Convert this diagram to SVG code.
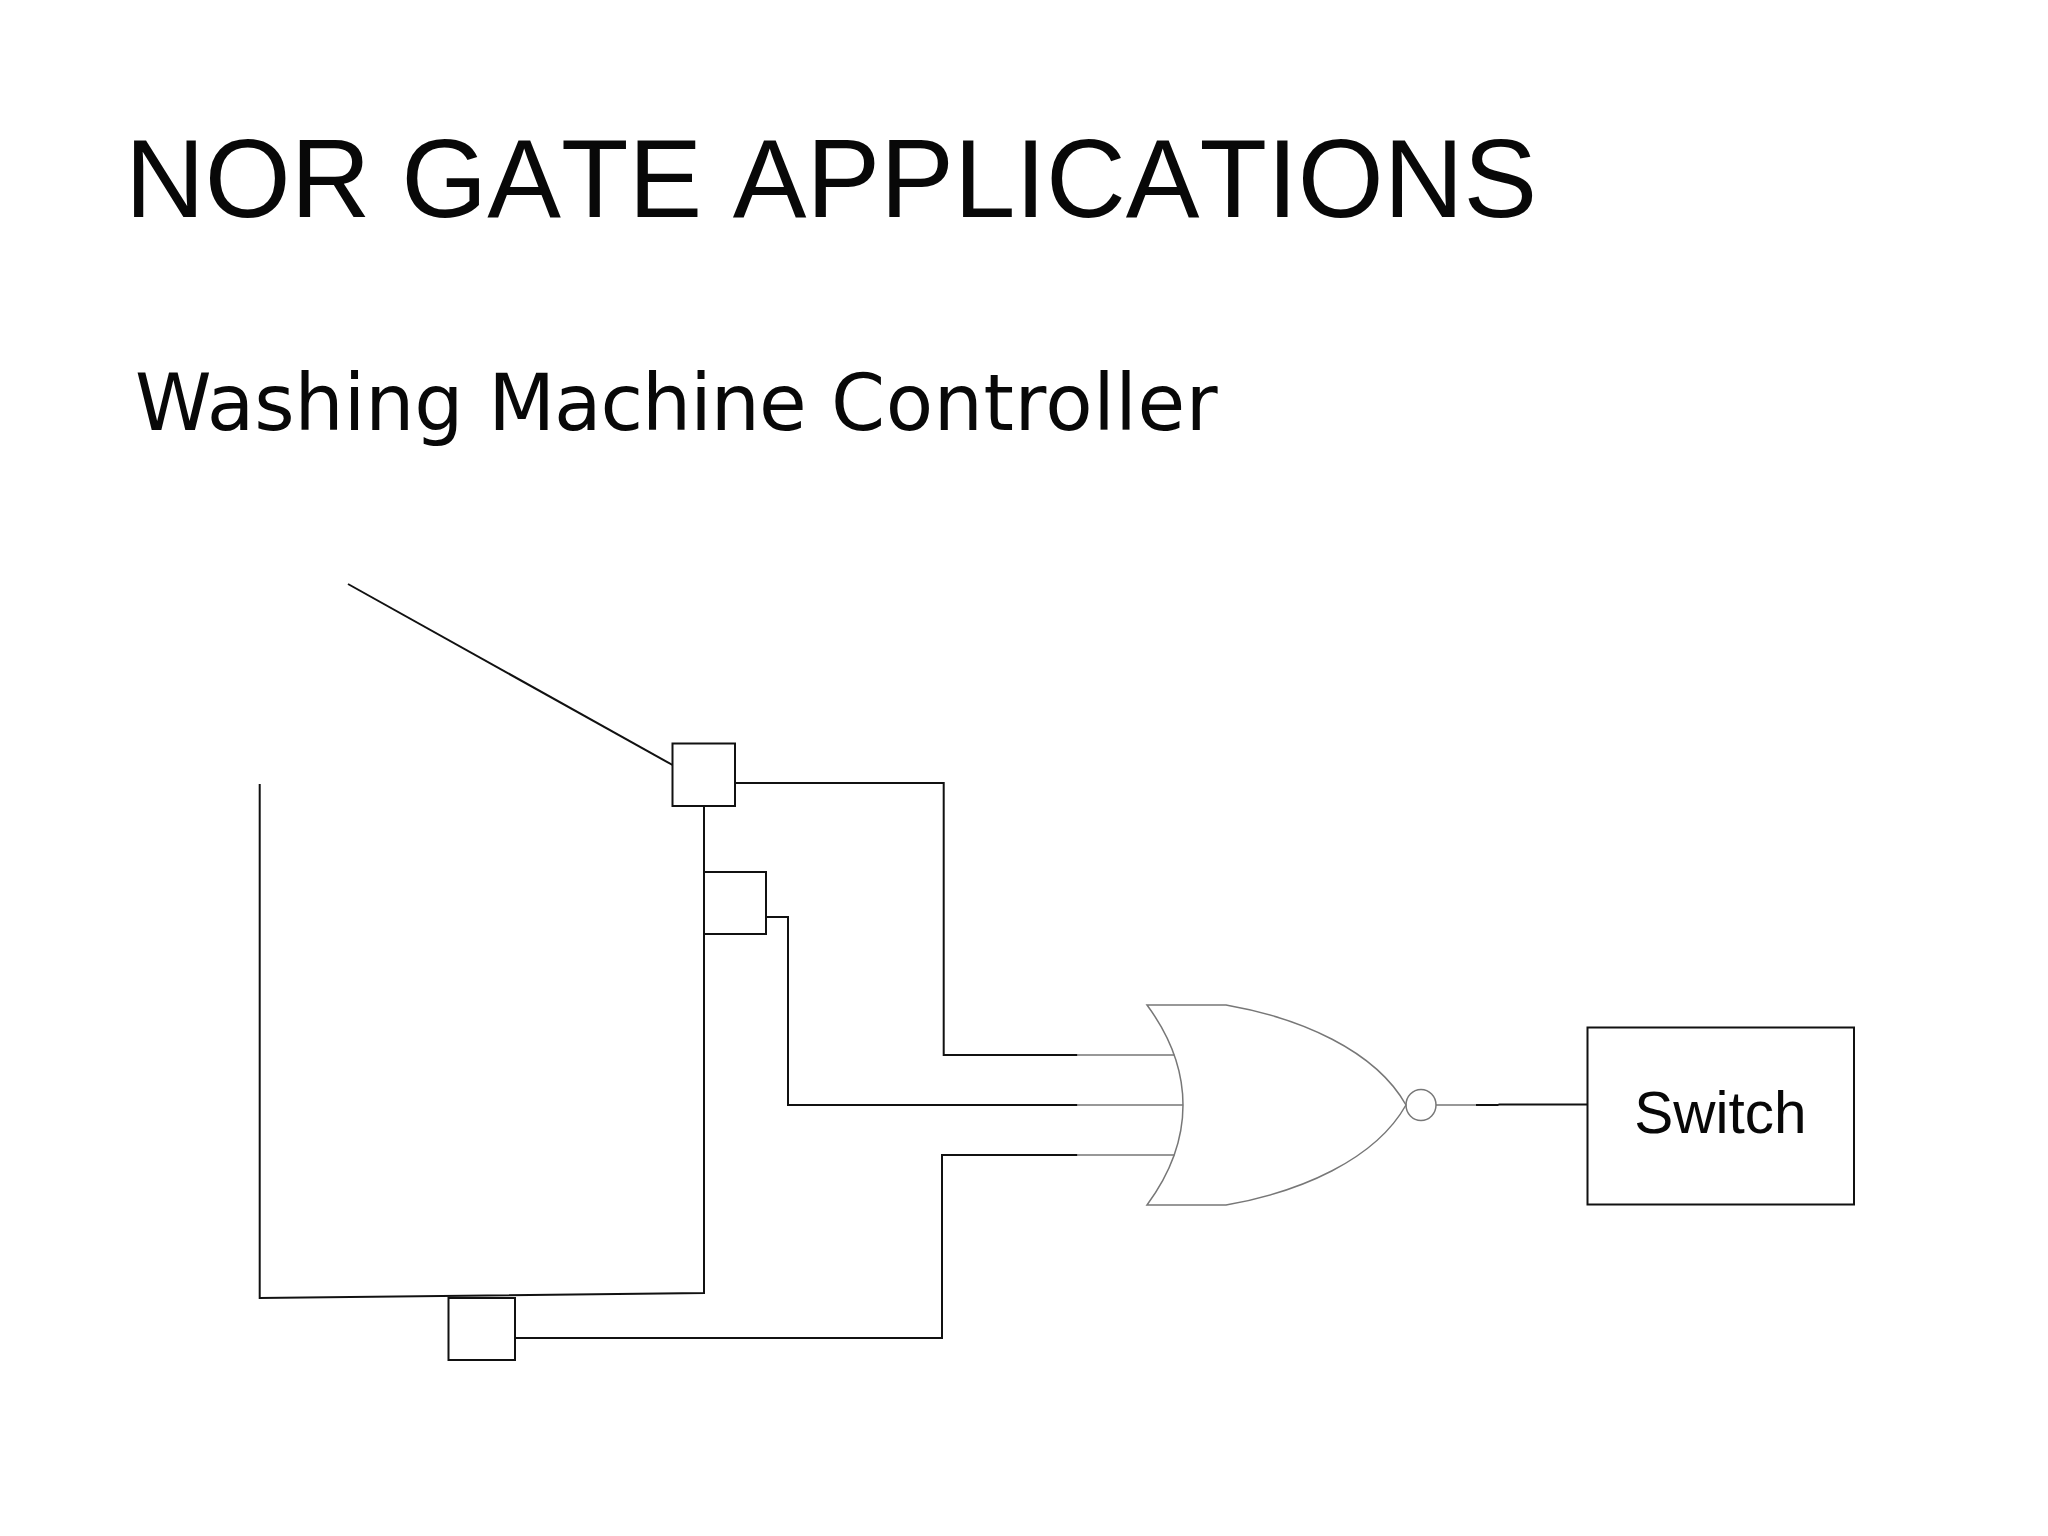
<svg xmlns="http://www.w3.org/2000/svg" width="2048" height="1536" viewBox="0 0 2048 1536">
<style>
.w{fill:none;stroke:#111;stroke-width:2}
.g{fill:none;stroke:#777;stroke-width:1.5}
.b{fill:#fff;stroke:#111;stroke-width:2}
text{fill:#080808}
</style>
<rect width="2048" height="1536" fill="#fff"/>
<text id="title" x="125" y="217" font-family="Liberation Sans, Arial, sans-serif" font-size="110.500" style="font-kerning:none">NOR GATE APPLICATIONS</text>
<text id="subtitle" x="135" y="430" font-family="DejaVu Sans, sans-serif" font-size="77.500">Washing <tspan letter-spacing="-1">Machine</tspan> <tspan x="831" letter-spacing="0.600">Controller</tspan></text>
<g id="connectors">
<path class="w" d="M348 584L672.500 765"/>
<path class="w" d="M735 783H943.700V1055H1077.500"/>
<path class="w" d="M766 917H788V1105H1077.500"/>
<path class="w" d="M515 1338H942V1155H1077.500"/>
<path class="w" d="M259.700 784V1298L704 1293V806"/>
<path class="g" d="M1077.500 1055H1174.500M1077.500 1105H1183M1077.500 1155H1174.500M1436 1105H1476"/>
<path class="w" d="M1476 1105H1498.500M1498.500 1104.500H1587"/>
</g>
<g id="sensor-1"><rect class="b" x="672.500" y="743.500" width="62.500" height="62.500"/></g>
<g id="sensor-2"><rect class="b" x="704" y="872" width="62" height="62"/></g>
<g id="sensor-3"><rect class="b" x="448.500" y="1298" width="66.500" height="62"/></g>
<g id="nor-gate">
<path class="g" d="M1147 1005H1226C1300 1018 1375 1050 1406 1105C1375 1160 1300 1192 1226 1205H1147C1195 1140 1195 1070 1147 1005Z"/>
<ellipse class="g" cx="1421" cy="1105" rx="15" ry="15.500"/>
</g>
<g id="switch">
<rect class="b" x="1587.500" y="1027.500" width="266.500" height="177"/>
<text x="1720.500" y="1133" font-family="Liberation Sans, Arial, sans-serif" font-size="58.500" text-anchor="middle">Switch</text>
</g>
</svg>
